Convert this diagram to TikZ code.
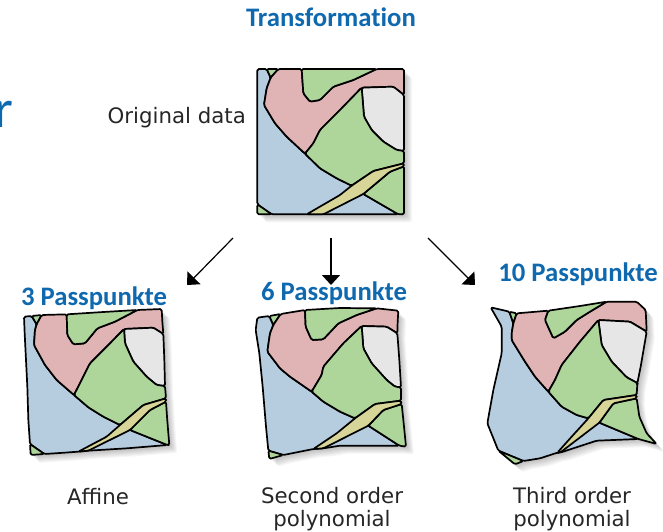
\documentclass[tikz,border=0pt]{standalone}
\usepackage{fontspec}
\setmainfont{Carlito}[Ligatures={NoCommon}]
\newfontfamily\mapfont{DejaVu Sans}
\definecolor{headblue}{HTML}{0F69AF}
\definecolor{mblue}{HTML}{B5CDDF}
\definecolor{mpink}{HTML}{E0B4B4}
\definecolor{mgreen}{HTML}{AED69B}
\definecolor{mwhite}{HTML}{E6E6E6}
\definecolor{myellow}{HTML}{D8D598}
\definecolor{capgrey}{HTML}{262626}
\usetikzlibrary{arrows.meta}
\tikzset{
  head/.style={font=\fontsize{26.7}{30}\selectfont\bfseries,text=headblue,inner sep=0pt},
  capt/.style={font=\mapfont\fontsize{21.3}{23}\selectfont,text=capgrey,inner sep=0pt,align=center},
  region/.style={draw=black,line width=1.7pt,line join=round,rounded corners=1.5pt},
  flow/.style={-{Triangle[length=10pt,width=18pt]},line width=1.2pt,black,shorten >=0pt},
}
\newcommand{\setmap}[3]{%
  \foreach \n/\x/\y in {#3}{\coordinate (\n) at ({#1+\x/3},{#2+\y/3});}%
}
\newcommand{\regionfill}[2]{\path[region,fill=#1] #2 -- cycle;}
\newcommand{\drawmap}{%
  \foreach \s in {1,2,...,8}{%
    \fill[black,opacity=0.035,rounded corners=2.5pt,transform canvas={xshift=\s pt,yshift=-\s pt}]
      (A)--(B)--(C)--(D)--(t1)--(E)--(F)--(f)--(G)--(r1)--(H)--(I)--(J)--(r2)--(r3)--(K)--(L)--(b2)--(M)--(N)--(b1)--(O)--(P)--(Q)--(l4)--(l3)--(l2)--(l1)--cycle;}
  \regionfill{mblue}{(A)--(B)--(R)--(S)--(T)--(U)--(V)--(W)--(X)--(Y)--(Z)--(Cr)--(L)--(b2)--(M)--(N)--(b1)--(O)--(Q)--(l4)--(l3)--(l2)--(l1)}
  \regionfill{mgreen}{(B)--(C)--(R)}
  \regionfill{mgreen}{(Q)--(O)--(P)}
  \regionfill{mpink}{(C)--(D)--(d1)--(d2)--(d3)--(d4)--(d5)--(E)--(F)--(f)--(G)--(f1)--(e4)--(e3)--(e2)--(e1)--(W)--(V)--(U)--(T)--(S)--(R)}
  \regionfill{mgreen}{(D)--(d1)--(d2)--(d3)--(d4)--(d5)--(E)--(t1)}
  \regionfill{mwhite}{(e4)--(f1)--(G)--(r1)--(H)--(g4)--(g3)--(g2)--(g1)}
  \regionfill{mgreen}{(e4)--(g1)--(g2)--(g3)--(g4)--(H)--(I)--(y1)--(Z)--(Y)--(X)--(W)--(e1)--(e2)--(e3)}
  \regionfill{mgreen}{(J)--(r2)--(r3)--(K)--(L)--(Cr)--(y5)}
  \regionfill{myellow}{(I)--(y1)--(Z)--(y2)--(N)--(M)--(Cr)--(y5)--(J)}
}
\begin{document}
\begin{tikzpicture}[x=1pt,y=-1pt]
\useasboundingbox (0,0) rectangle (663,532);
% original
\setmap{240}{55}{A/52/42,B/80/42,C/115/42,D/185/42,t1/300/42,E/410/42,F/492/42,f/492/80,G/492/120,r1/492/200,H/492/288,I/492/325,J/492/334,r2/492/380,r3/492/440,K/492/478,L/475/478,b2/350/478,M/250/478,N/200/478,b1/150/478,O/95/478,P/52/478,Q/52/448,l4/52/380,l3/52/280,l2/52/180,l1/52/100,R/92/68,S/80/100,T/72/150,U/105/205,V/140/245,W/195/296,X/240/340,Y/290/370,Z/335/392,Cr/370/417,d1/190/115,d2/210/140,d3/240/135,d4/280/95,d5/340/75,e1/220/265,e2/240/225,e3/300/165,e4/365/98,f1/460/95,g1/372/185,g2/395/225,g3/430/260,g4/470/285,y1/400/348,y2/300/420,y5/450/350}
\drawmap
% affine
\setmap{10}{280}{A/42/110,B/65/108,C/95/105,D/170/103,t1/280/96,E/382/90,F/455/87,f/457/125,G/460/162,r1/463/240,H/465/318,I/468/355,J/468/365,r2/471/410,r3/475/460,K/478/495,L/472/495,b2/350/505,M/235/512,N/205/515,b1/150/519,O/103/522,P/62/525,Q/60/492,l4/55/420,l3/52/320,l2/47/220,l1/44/160,R/80/133,S/75/150,T/72/195,U/105/255,V/140/300,W/192/345,X/235/382,Y/280/410,Z/330/435,Cr/360/450,d1/172/165,d2/190/193,d3/225/190,d4/262/145,d5/315/125,e1/215/300,e2/240/250,e3/300/190,e4/342/147,f1/430/143,g1/345/190,g2/370/245,g3/410/290,g4/440/315,y1/400/375,y2/290/470,y5/420/390}
\drawmap
% second order
\setmap{240}{280}{A/52/113,B/88/108,C/122/102,D/195/90,t1/300/84,E/410/85,F/475/92,f/473/125,G/472/160,r1/478/240,H/483/322,I/483/362,J/485/372,r2/490/420,r3/494/460,K/498/500,L/478/497,b2/300/497,M/250/505,N/220/507,b1/175/516,O/130/525,P/88/537,Q/85/512,l4/78/440,l3/68/320,l2/58/220,l1/47/150,R/100/135,S/90/160,T/82/215,U/120/265,V/150/290,W/215/335,X/250/365,Y/300/395,Z/345/415,Cr/385/437,d1/197/140,d2/215/180,d3/250/178,d4/295/130,d5/350/105,e1/245/285,e2/250/260,e3/310/190,e4/365/138,f1/440/140,g1/370/205,g2/395/250,g3/440/300,g4/465/320,y1/405/372,y2/290/460,y5/430/390}
\drawmap
% third order
\setmap{480}{290}{A/32/52,B/88/65,C/110/70,D/205/62,t1/300/48,E/380/35,F/470/35,f/497/60,G/500/125,r1/482/230,H/472/280,I/470/315,J/470/325,r2/478/380,r3/500/430,K/530/462,L/475/447,b2/350/452,M/240/488,N/232/488,b1/180/505,O/130/513,P/105/523,Q/55/482,l4/22/400,l3/40/300,l2/65/190,l1/65/110,R/100/100,S/95/130,T/95/150,U/135/215,V/165/260,W/205/305,X/245/350,Y/290/375,Z/325/385,Cr/358/398,d1/195/90,d2/220/145,d3/255/125,d4/290/90,d5/330/65,e1/225/270,e2/245/225,e3/300/155,e4/355/90,f1/450/95,g1/365/165,g2/395/215,g3/440/262,g4/470/278,y1/370/330,y2/275/440,y5/400/340}
\drawmap
% texts
\node[head] (title) at (331,17) {Transformation};
\node[head,font=\fontsize{54}{60}\selectfont,anchor=base east] (cut) at (14,127) {r};
\node[capt,anchor=east] (orig) at (246,118) {Original data};
\node[head] (p3) at (94,298) {3 Passpunkte};
\node[head] (p6) at (334,293) {6 Passpunkte};
\node[head] (p10) at (578,274) {10 Passpunkte};
\node[capt] (affine) at (98,497) {Affine};
\node[capt] (second) at (332,509) {Second order\\polynomial};
\node[capt] (third) at (572,509) {Third order\\polynomial};
% arrows
\coordinate (a1s) at (233,238); \coordinate (a1e) at (187,285);
\coordinate (a2s) at (331,238); \coordinate (a2e) at (331,285);
\coordinate (a3s) at (428,238); \coordinate (a3e) at (475,285);
\draw[flow] (a1s) -- (a1e);
\draw[flow,line width=1.6pt] (a2s) -- (a2e);
\draw[flow] (a3s) -- (a3e);
\end{tikzpicture}
\end{document}
